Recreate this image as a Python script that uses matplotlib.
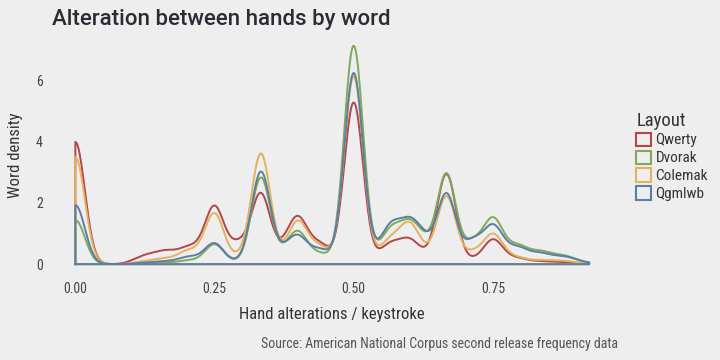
import numpy as np
import matplotlib
matplotlib.use("Agg")
import matplotlib.pyplot as plt
from matplotlib.patches import Patch

# share of words at each hand-alteration ratio (estimated from the chart)
ratios = [0, 1/9, 1/8, 1/7, 1/6, 1/5, 2/9, 1/4, 2/7, 3/10, 1/3, 3/8, 2/5, 3/7, 4/9,
          1/2, 5/9, 4/7, 3/5, 5/8, 2/3, 5/7, 3/4, 7/9, 4/5, 5/6, 6/7, 7/8, 8/9, 9/10, 12/13]

qwerty = [0.170, 0.004, 0.005, 0.008, 0.014, 0.018, 0.010, 0.077, 0.014, 0.015, 0.096,
          0.0166, 0.058, 0.012, 0.018, 0.225, 0.012, 0.018, 0.0288, 0.008, 0.125,
          0.0053, 0.0327, 0.005, 0.0056, 0.003, 0.0015, 0.0012, 0.0008, 0.0005, 0.0002]
dvorak = [0.0613, 0.0, 0.0005, 0.001, 0.0015, 0.004, 0.002, 0.0269, 0.001, 0.0013, 0.120,
          0.0107, 0.0412, 0.005, 0.0099, 0.304, 0.018, 0.033, 0.0457, 0.0247, 0.125,
          0.0284, 0.059, 0.012, 0.019, 0.014, 0.006, 0.006, 0.003, 0.002, 0.001]
colemak = [0.149, 0.001, 0.002, 0.003, 0.006, 0.015, 0.007, 0.0686, 0.004, 0.0047, 0.153,
           0.0082, 0.055, 0.010, 0.016, 0.261, 0.014, 0.022, 0.0492, 0.0113, 0.094,
           0.0148, 0.0394, 0.006, 0.006, 0.004, 0.0025, 0.002, 0.0012, 0.001, 0.0004]
qgmlwb = [0.0822, 0.0005, 0.001, 0.0015, 0.003, 0.008, 0.004, 0.028, 0.0015, 0.0015, 0.128,
          0.0132, 0.0343, 0.007, 0.0143, 0.266, 0.021, 0.036, 0.0467, 0.0283, 0.097,
          0.030, 0.0494, 0.011, 0.017, 0.012, 0.005, 0.005, 0.003, 0.002, 0.001]

layouts = ["Qwerty", "Dvorak", "Colemak", "Qgmlwb"]
colors = ["#b4464b", "#80a95b", "#e3b25e", "#5a7fa6"]
bw = 0.017

bg = "#eeeeee"
plt.rcParams['font.family'] = ['Roboto Condensed', 'Roboto', 'DejaVu Sans']

fig = plt.figure(figsize=(7.2, 3.6), dpi=100, facecolor=bg)
ax = fig.add_axes([0.069, 0.236, 0.785, 0.667])
ax.set_facecolor(bg)

r = np.array(ratios)
grid = np.linspace(r.min(), r.max(), 600)
for name, w, c in zip(layouts, [qwerty, dvorak, colemak, qgmlwb], colors):
    w = np.array(w)
    dens = (w[None, :] * np.exp(-0.5 * ((grid[:, None] - r[None, :]) / bw) ** 2)).sum(axis=1)
    dens /= bw * np.sqrt(2 * np.pi)
    xs = np.concatenate([[grid[0]], grid, [grid[-1], grid[0]]])
    ys = np.concatenate([[0], dens, [0, 0]])
    ax.plot(xs, ys, color=c, lw=1.4, solid_joinstyle='round')

ax.margins(x=0.05, y=0.05)
ax.set_xticks([0, 0.25, 0.5, 0.75])
ax.set_xticklabels(["0.00", "0.25", "0.50", "0.75"])
ax.set_yticks([0, 2, 4, 6])
ax.tick_params(length=0, labelsize=10, colors="#444444", pad=5)
for s in ax.spines.values():
    s.set_visible(False)

ax.set_xlabel("Hand alterations / keystroke", fontsize=12, color="#333333", labelpad=8)
ax.set_ylabel("Word density", fontsize=12, color="#333333", labelpad=9)

fig.text(0.072, 0.93, "Alteration between hands by word", fontsize=16, fontweight=500,
         family=['Roboto', 'DejaVu Sans'], color="#2a2b33")
fig.text(0.858, 0.032, "Source: American National Corpus second release frequency data",
         ha='right', fontsize=10, color="#555555")

handles = [Patch(facecolor=bg, edgecolor=c, lw=1.5) for c in colors]
leg = fig.legend(handles, layouts, title="Layout", loc='upper left',
                 bbox_to_anchor=(0.884, 0.69), frameon=False, fontsize=11,
                 title_fontsize=13.5, handlelength=0.95, handleheight=0.95,
                 handletextpad=0.3, labelspacing=0.2, alignment='left',
                 borderpad=0, borderaxespad=0)
for t in leg.get_texts():
    t.set_color("#333333")
leg.get_title().set_color("#333333")

fig.savefig("out.png", dpi=100, facecolor=bg)
